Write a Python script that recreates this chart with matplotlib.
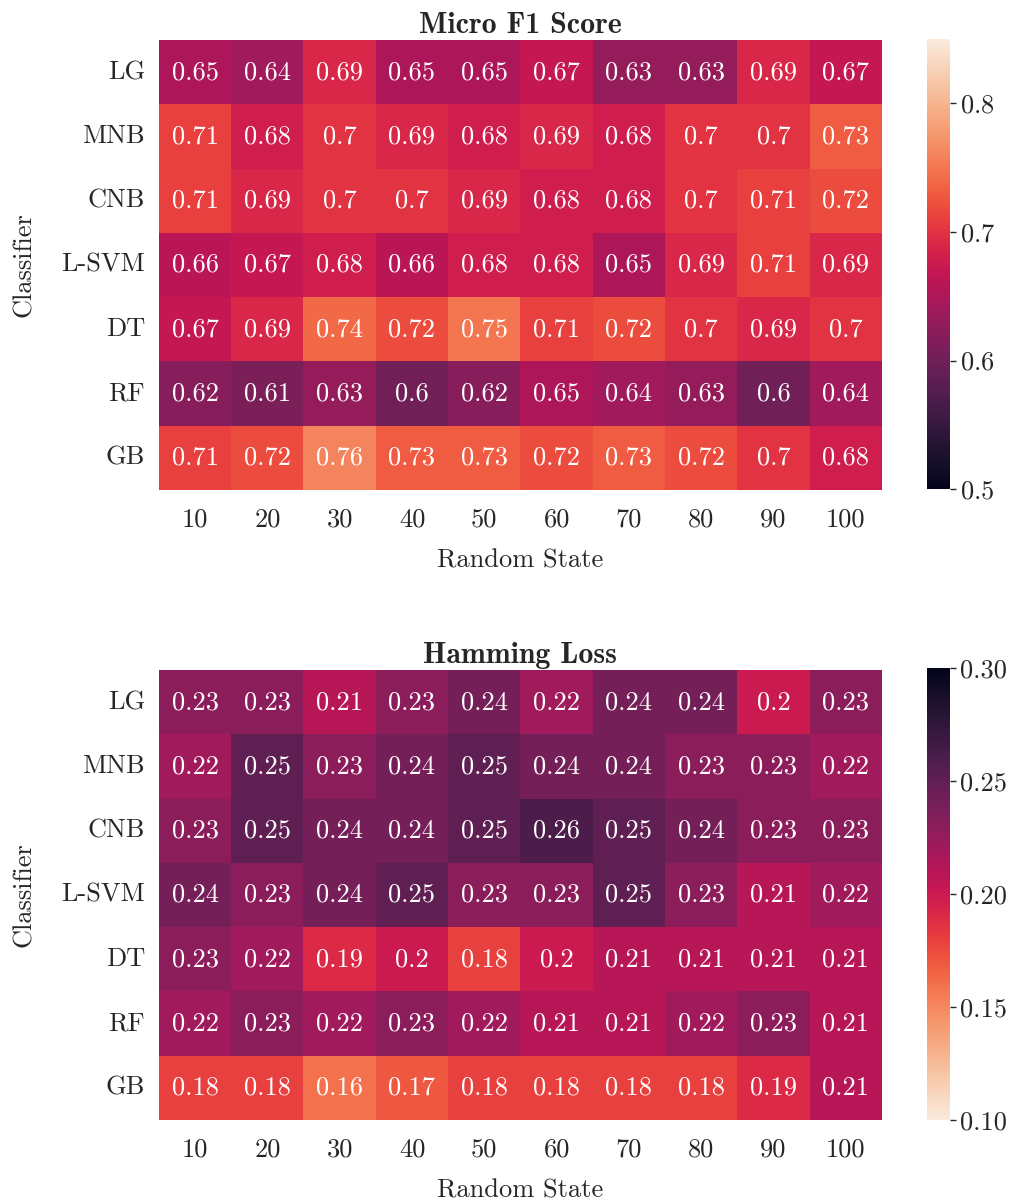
import numpy as np
import matplotlib
matplotlib.use("Agg")
import matplotlib.pyplot as plt
import seaborn as sns

classifiers = ["LG", "MNB", "CNB", "L-SVM", "DT", "RF", "GB"]
random_states = [10, 20, 30, 40, 50, 60, 70, 80, 90, 100]

micro_f1 = [
    [0.65, 0.64, 0.69, 0.65, 0.65, 0.67, 0.63, 0.63, 0.69, 0.67],
    [0.71, 0.68, 0.70, 0.69, 0.68, 0.69, 0.68, 0.70, 0.70, 0.73],
    [0.71, 0.69, 0.70, 0.70, 0.69, 0.68, 0.68, 0.70, 0.71, 0.72],
    [0.66, 0.67, 0.68, 0.66, 0.68, 0.68, 0.65, 0.69, 0.71, 0.69],
    [0.67, 0.69, 0.74, 0.72, 0.75, 0.71, 0.72, 0.70, 0.69, 0.70],
    [0.62, 0.61, 0.63, 0.60, 0.62, 0.65, 0.64, 0.63, 0.60, 0.64],
    [0.71, 0.72, 0.76, 0.73, 0.73, 0.72, 0.73, 0.72, 0.70, 0.68],
]

hamming = [
    [0.23, 0.23, 0.21, 0.23, 0.24, 0.22, 0.24, 0.24, 0.20, 0.23],
    [0.22, 0.25, 0.23, 0.24, 0.25, 0.24, 0.24, 0.23, 0.23, 0.22],
    [0.23, 0.25, 0.24, 0.24, 0.25, 0.26, 0.25, 0.24, 0.23, 0.23],
    [0.24, 0.23, 0.24, 0.25, 0.23, 0.23, 0.25, 0.23, 0.21, 0.22],
    [0.23, 0.22, 0.19, 0.20, 0.18, 0.20, 0.21, 0.21, 0.21, 0.21],
    [0.22, 0.23, 0.22, 0.23, 0.22, 0.21, 0.21, 0.22, 0.23, 0.21],
    [0.18, 0.18, 0.16, 0.17, 0.18, 0.18, 0.18, 0.18, 0.19, 0.21],
]

FS = 19

sns.set_style("white")
plt.rcParams["font.family"] = ["cmr10", "DejaVu Serif"]
plt.rcParams["axes.formatter.use_mathtext"] = True
plt.rcParams["font.size"] = FS
plt.rcParams["text.color"] = "#262626"
plt.rcParams["axes.labelcolor"] = "#262626"
plt.rcParams["xtick.color"] = "#262626"
plt.rcParams["ytick.color"] = "#262626"

fig = plt.figure(figsize=(10.12, 11.99), dpi=100)

ax1 = fig.add_axes([0.157, 0.5913, 0.7145, 0.3753])
cax1 = fig.add_axes([0.916, 0.5921, 0.0227, 0.3753])
ax2 = fig.add_axes([0.157, 0.0659, 0.7145, 0.3753])
cax2 = fig.add_axes([0.916, 0.0659, 0.0227, 0.377])

# Micro F1
sns.heatmap(np.array(micro_f1), ax=ax1, cbar_ax=cax1, cmap="rocket",
            vmin=0.5, vmax=0.85, annot=True, fmt=".2g",
            annot_kws={"color": "white", "fontsize": FS},
            xticklabels=random_states, yticklabels=classifiers)
ax1.set_title("Micro F1 Score", fontfamily="cmb10", fontsize=21.5, pad=5)
cax1.set_yticks([0.5, 0.6, 0.7, 0.8])

# Hamming Loss
sns.heatmap(np.array(hamming), ax=ax2, cbar_ax=cax2, cmap="rocket_r",
            vmin=0.1, vmax=0.3, annot=True, fmt=".2g",
            annot_kws={"color": "white", "fontsize": FS},
            xticklabels=random_states, yticklabels=classifiers)
ax2.set_title("Hamming Loss", fontfamily="cmb10", fontsize=21.5, pad=5)
cax2.set_yticks([0.10, 0.15, 0.20, 0.25, 0.30])
cax2.set_yticklabels(["0.10", "0.15", "0.20", "0.25", "0.30"])

for ax in (ax1, ax2):
    ax.set_xlabel("Random State", labelpad=12)
    ax.set_ylabel("Classifier", labelpad=18)
    ax.tick_params(axis="x", length=0, pad=13)
    ax.tick_params(axis="y", length=0, pad=10)
    ax.set_yticklabels(classifiers, rotation=0)
    ax.set_xticklabels(random_states, rotation=0)

for cax in (cax1, cax2):
    cax.tick_params(length=4, width=1, pad=3)
    for s in cax.spines.values():
        s.set_visible(False)

fig.savefig("out.png", dpi=100)
